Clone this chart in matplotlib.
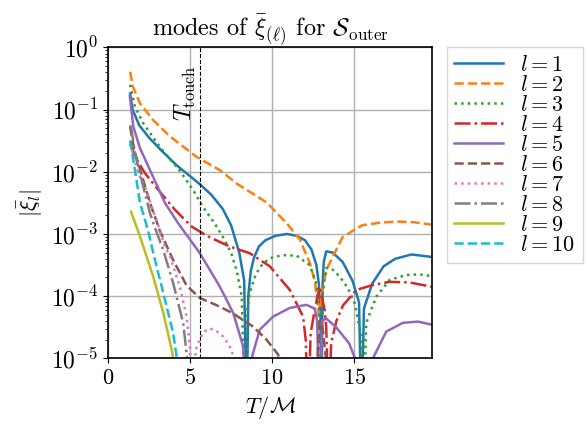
import numpy as np
import matplotlib
matplotlib.use("Agg")
import matplotlib.pyplot as plt

plt.rcParams["font.family"] = "serif"
plt.rcParams["font.serif"] = ["cmr10"]
plt.rcParams["mathtext.fontset"] = "cm"
plt.rcParams["axes.formatter.use_mathtext"] = True
plt.rcParams["axes.unicode_minus"] = False

FS = 16

# Mode amplitudes |xi_l| versus T/M, stored as log10 values
T1 = [1.35, 1.5, 1.9, 2.5, 3.3, 4.2, 5.0, 5.6, 6.3, 7.0, 7.5, 8.0, 8.3, 8.45, 8.55, 8.7,
      8.9, 9.2, 9.6, 10.2, 10.9, 11.5, 12.0, 12.4, 12.7, 12.85, 12.95, 13.0, 13.08, 13.15,
      13.3, 13.7, 14.3, 14.9, 15.3, 15.45, 15.6, 16.1, 16.8, 17.5, 18.5, 19.75]
L1 = [-0.74, -1.0, -1.25, -1.45, -1.67, -1.90, -2.07, -2.2, -2.37, -2.6, -2.86, -3.3,
      -3.75, -6.0, -4.0, -3.6, -3.38, -3.2, -3.1, -3.03, -3.0, -3.03, -3.1, -3.25, -3.5,
      -3.8, -4.3, -6.0, -3.8, -3.45, -3.28, -3.3, -3.45, -3.75, -4.1, -6.0, -4.2, -3.8,
      -3.52, -3.4, -3.33, -3.37]

T2 = [1.35, 1.5, 1.95, 2.76, 3.77, 5.4, 6.8, 7.9, 9.0, 9.7, 10.9, 11.7, 12.3, 12.6,
      12.85, 13.05, 13.3, 13.9, 14.3, 15.1, 15.5, 16.5, 17.6, 18.6, 19.75]
L2 = [-0.39, -0.62, -0.9, -1.17, -1.43, -1.76, -1.97, -2.2, -2.38, -2.5, -2.83, -3.09,
      -3.47, -3.75, -4.3, -3.95, -3.58, -3.26, -3.05, -2.92, -2.86, -2.82, -2.8, -2.81, -2.85]

T3 = [1.35, 1.64, 2.15, 3.16, 4.4, 5.2, 5.8, 6.5, 7.1, 7.5, 7.85, 8.15, 8.35, 8.5, 8.64,
      9.0, 9.45, 10.0, 10.67, 11.5, 12.3, 12.7, 12.85, 12.95, 13.1, 13.3, 13.6, 14.1, 14.6,
      15.03, 15.44, 15.55, 15.74, 16.35, 17.16, 18.18, 19.0, 19.75]
L3 = [-0.6, -0.95, -1.22, -1.6, -1.99, -2.3, -2.57, -2.83, -3.09, -3.3, -3.6, -4.0, -6.0,
      -4.2, -3.95, -3.65, -3.47, -3.38, -3.34, -3.35, -3.5, -3.8, -4.2, -6.0, -3.9, -3.55,
      -3.55, -3.68, -3.86, -4.11, -4.65, -6.0, -4.43, -4.01, -3.74, -3.66, -3.65, -3.68]

T4 = [1.35, 1.64, 2.25, 3.06, 4.08, 5.09, 6.1, 7.4, 8.64, 9.86, 11.08, 11.89, 12.05,
      12.19, 12.35, 12.6, 12.9, 13.2, 13.3, 13.45, 13.6, 13.92, 14.32, 15.14, 16.15,
      17.16, 18.38, 19.75]
L4 = [-1.5, -1.76, -2.02, -2.29, -2.61, -2.88, -3.04, -3.2, -3.31, -3.52, -3.9, -4.33,
      -4.7, -6.0, -4.6, -4.22, -3.85, -4.22, -4.5, -6.0, -4.75, -4.4, -4.15, -3.9, -3.82,
      -3.77, -3.78, -3.85]

T5 = [1.33, 1.54, 1.95, 2.66, 3.47, 4.28, 5.3, 5.6, 6.82, 7.63, 8.24, 8.55, 8.75, 9.25,
      10.06, 11.08, 12.09, 12.6, 12.75, 12.82, 12.9, 12.98, 13.05, 13.3, 13.9, 14.7, 15.05,
      15.55, 16.15, 16.96, 17.97, 18.89, 19.75]
L5 = [-0.78, -1.27, -1.62, -2.03, -2.5, -2.83, -3.2, -3.31, -3.85, -4.27, -4.81, -6.5,
      -5.0, -4.54, -4.33, -4.19, -4.14, -4.2, -4.4, -5.2, -6.5, -5.2, -4.4, -4.36, -4.5,
      -4.76, -5.0, -6.5, -5.0, -4.57, -4.43, -4.41, -4.46]

T6 = [1.35, 1.6, 2.0, 2.56, 3.16, 3.97, 4.79, 5.6, 6.82, 7.63, 8.84, 9.66, 10.37, 10.6,
      12.7, 12.9, 13.1, 13.4]
L6 = [-1.28, -1.65, -2.0, -2.5, -2.95, -3.42, -3.83, -4.03, -4.17, -4.28, -4.49, -4.7,
      -4.94, -5.2, -5.3, -4.4, -4.55, -5.3]

T7 = [1.35, 1.85, 2.25, 2.66, 3.06, 3.47, 3.8, 4.38, 4.79, 4.99, 5.1, 5.2, 5.3, 5.4,
      5.8, 6.2, 6.6, 7.02, 7.4, 7.63, 7.85]
L7 = [-1.55, -2.02, -2.24, -2.56, -2.85, -3.2, -3.38, -3.85, -4.33, -4.81, -5.5, -6.0,
      -5.0, -4.81, -4.58, -4.52, -4.56, -4.65, -4.8, -4.95, -5.3]

T8 = [1.35, 1.44, 1.64, 2.05, 2.56, 2.86, 3.37, 3.97, 4.58, 4.79, 4.9]
L8 = [-1.25, -1.33, -1.7, -2.13, -2.67, -2.9, -3.26, -3.79, -4.43, -4.92, -5.3]

T9 = [1.4, 1.95, 2.76, 3.37, 3.88, 4.0]
L9 = [-2.64, -3.04, -3.69, -4.27, -4.86, -5.05]

T10 = [1.35, 1.64, 1.95, 2.45, 2.76, 3.37, 3.97, 4.18, 4.3]
L10 = [-1.5, -1.97, -2.5, -2.95, -3.31, -3.95, -4.59, -4.97, -5.2]

modes = [(T1, L1), (T2, L2), (T3, L3), (T4, L4), (T5, L5),
         (T6, L6), (T7, L7), (T8, L8), (T9, L9), (T10, L10)]
labels = [r"$l = %d$" % n for n in range(1, 11)]
styles = ["-", "--", ":", "-."] * 3
colors = plt.rcParams["axes.prop_cycle"].by_key()["color"]

T_touch = 5.6

fig = plt.figure(figsize=(5.87, 4.24), dpi=100)
ax = fig.add_axes([0.184, 0.155, 0.552, 0.733])

for i, (t, lv) in enumerate(modes):
    ax.plot(t, 10.0 ** np.asarray(lv), ls=styles[i], color=colors[i], lw=1.8,
            label=labels[i])

ax.axvline(T_touch, color="black", ls="--", lw=0.8)
ax.text(T_touch - 0.1, 10 ** -0.28, r"$T_\mathrm{touch}$", rotation=90,
        ha="right", va="top", fontsize=17)

ax.set_yscale("log")
ax.set_ylim(1e-5, 1e0)
ax.set_xlim(0, 19.75)
ax.set_xticks([0, 5, 10, 15])
ax.grid(True, which="major", color="#b0b0b0", lw=1.0)
ax.tick_params(labelsize=FS)
ax.tick_params(axis="y", labelsize=17)
for s in ax.spines.values():
    s.set_linewidth(1.2)

ax.set_xlabel(r"$T/\mathcal{M}$", fontsize=FS)
ax.set_ylabel(r"$|\bar{\xi}_l|$", fontsize=FS)
ax.set_title(r"modes of $\bar{\xi}_{(\ell)}$ for $\mathcal{S}_\mathrm{outer}$", fontsize=17.5)

leg = ax.legend(loc="upper left", bbox_to_anchor=(1.045, 1.0), borderaxespad=0,
                fontsize=FS, fancybox=False, handlelength=2.2, handletextpad=0.75,
                labelspacing=0.0, borderpad=0.35)
leg.get_frame().set_edgecolor("#cccccc")

fig.savefig("out.png", dpi=100)
